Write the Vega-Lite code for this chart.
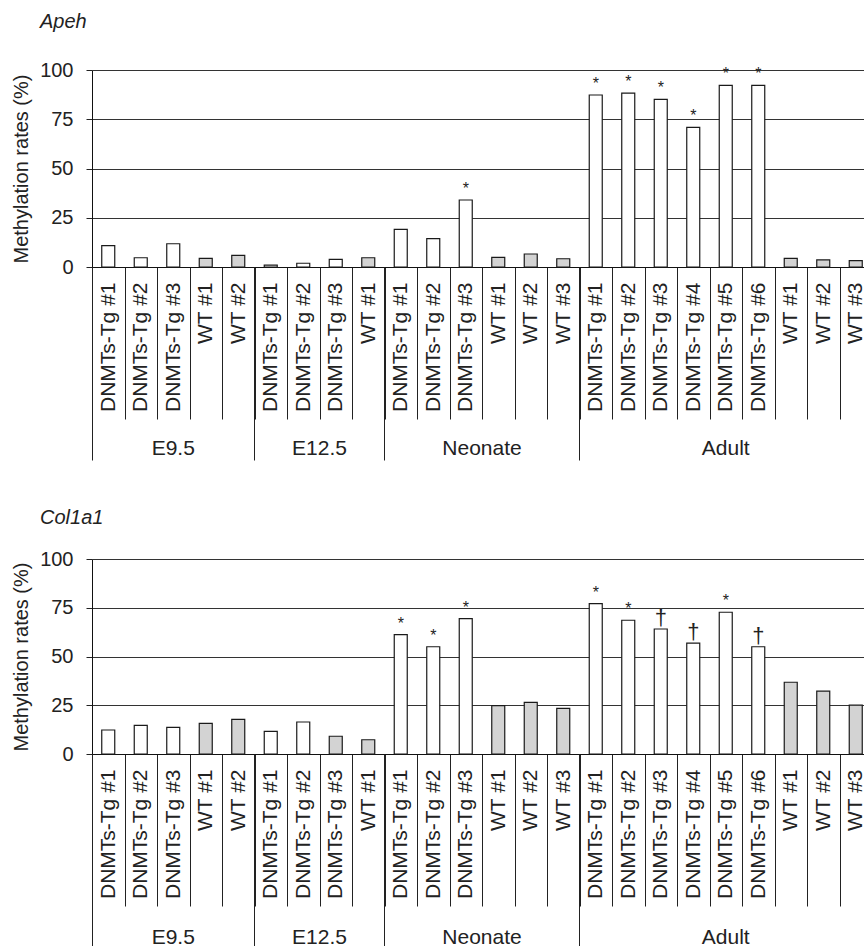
{
  "$schema": "https://vega.github.io/schema/vega-lite/v6.json",
  "padding": {"left": 10, "top": 12, "right": 0, "bottom": 0},
  "config": {"font": "Liberation Sans", "view": {"stroke": null}},
  "datasets": {
    "apeh": [
      {"id": "E9.5|DNMTs-Tg #1", "value": 10.8, "sig": "", "shading": "open"},
      {"id": "E9.5|DNMTs-Tg #2", "value": 4.7, "sig": "", "shading": "open"},
      {"id": "E9.5|DNMTs-Tg #3", "value": 11.8, "sig": "", "shading": "open"},
      {"id": "E9.5|WT #1", "value": 4.4, "sig": "", "shading": "filled"},
      {"id": "E9.5|WT #2", "value": 5.9, "sig": "", "shading": "filled"},
      {"id": "E12.5|DNMTs-Tg #1", "value": 1.0, "sig": "", "shading": "open"},
      {"id": "E12.5|DNMTs-Tg #2", "value": 1.9, "sig": "", "shading": "open"},
      {"id": "E12.5|DNMTs-Tg #3", "value": 3.9, "sig": "", "shading": "open"},
      {"id": "E12.5|WT #1", "value": 4.7, "sig": "", "shading": "filled"},
      {"id": "Neonate|DNMTs-Tg #1", "value": 19.1, "sig": "", "shading": "open"},
      {"id": "Neonate|DNMTs-Tg #2", "value": 14.4, "sig": "", "shading": "open"},
      {"id": "Neonate|DNMTs-Tg #3", "value": 34.0, "sig": "*", "shading": "open"},
      {"id": "Neonate|WT #1", "value": 4.9, "sig": "", "shading": "filled"},
      {"id": "Neonate|WT #2", "value": 6.6, "sig": "", "shading": "filled"},
      {"id": "Neonate|WT #3", "value": 4.2, "sig": "", "shading": "filled"},
      {"id": "Adult|DNMTs-Tg #1", "value": 87.3, "sig": "*", "shading": "open"},
      {"id": "Adult|DNMTs-Tg #2", "value": 88.3, "sig": "*", "shading": "open"},
      {"id": "Adult|DNMTs-Tg #3", "value": 85.1, "sig": "*", "shading": "open"},
      {"id": "Adult|DNMTs-Tg #4", "value": 70.9, "sig": "*", "shading": "open"},
      {"id": "Adult|DNMTs-Tg #5", "value": 92.2, "sig": "*", "shading": "open"},
      {"id": "Adult|DNMTs-Tg #6", "value": 92.2, "sig": "*", "shading": "open"},
      {"id": "Adult|WT #1", "value": 4.4, "sig": "", "shading": "filled"},
      {"id": "Adult|WT #2", "value": 3.6, "sig": "", "shading": "filled"},
      {"id": "Adult|WT #3", "value": 3.2, "sig": "", "shading": "filled"}
    ],
    "col1a1": [
      {"id": "E9.5|DNMTs-Tg #1", "value": 12.3, "sig": "", "shading": "open"},
      {"id": "E9.5|DNMTs-Tg #2", "value": 14.7, "sig": "", "shading": "open"},
      {"id": "E9.5|DNMTs-Tg #3", "value": 13.7, "sig": "", "shading": "open"},
      {"id": "E9.5|WT #1", "value": 15.7, "sig": "", "shading": "filled"},
      {"id": "E9.5|WT #2", "value": 17.8, "sig": "", "shading": "filled"},
      {"id": "E12.5|DNMTs-Tg #1", "value": 11.6, "sig": "", "shading": "open"},
      {"id": "E12.5|DNMTs-Tg #2", "value": 16.4, "sig": "", "shading": "open"},
      {"id": "E12.5|DNMTs-Tg #3", "value": 9.1, "sig": "", "shading": "filled"},
      {"id": "E12.5|WT #1", "value": 7.3, "sig": "", "shading": "filled"},
      {"id": "Neonate|DNMTs-Tg #1", "value": 61.2, "sig": "*", "shading": "open"},
      {"id": "Neonate|DNMTs-Tg #2", "value": 55.0, "sig": "*", "shading": "open"},
      {"id": "Neonate|DNMTs-Tg #3", "value": 69.4, "sig": "*", "shading": "open"},
      {"id": "Neonate|WT #1", "value": 24.8, "sig": "", "shading": "filled"},
      {"id": "Neonate|WT #2", "value": 26.5, "sig": "", "shading": "filled"},
      {"id": "Neonate|WT #3", "value": 23.4, "sig": "", "shading": "filled"},
      {"id": "Adult|DNMTs-Tg #1", "value": 77.1, "sig": "*", "shading": "open"},
      {"id": "Adult|DNMTs-Tg #2", "value": 68.6, "sig": "*", "shading": "open"},
      {"id": "Adult|DNMTs-Tg #3", "value": 64.1, "sig": "†", "shading": "open"},
      {"id": "Adult|DNMTs-Tg #4", "value": 56.9, "sig": "†", "shading": "open"},
      {"id": "Adult|DNMTs-Tg #5", "value": 72.7, "sig": "*", "shading": "open"},
      {"id": "Adult|DNMTs-Tg #6", "value": 55.0, "sig": "†", "shading": "open"},
      {"id": "Adult|WT #1", "value": 36.8, "sig": "", "shading": "filled"},
      {"id": "Adult|WT #2", "value": 32.2, "sig": "", "shading": "filled"},
      {"id": "Adult|WT #3", "value": 25.1, "sig": "", "shading": "filled"}
    ]
  },
  "bounds": "flush",
  "spacing": 292,
  "vconcat": [
    {
      "data": {"name": "apeh"},
      "width": 780,
      "height": 197,
      "title": {"text": "Apeh", "anchor": "start", "frame": "group", "fontStyle": "italic", "fontWeight": "normal", "fontSize": 20, "color": "#222", "dx": -52, "offset": 12, "baseline": "alphabetic"},
      "encoding": {
        "y": {"field": "value", "type": "quantitative", "scale": {"domain": [0, 100]},
          "axis": {"title": "Methylation rates (%)", "values": [0, 25, 50, 75, 100], "grid": true, "gridColor": "#333", "gridWidth": 1, "tickSize": 6, "tickColor": "#222", "domainColor": "#111", "labelFontSize": 20, "labelPadding": 13, "labelColor": "#222", "titleFontSize": 20, "titleFontWeight": "normal", "titleColor": "#222", "titleAngle": -90, "titleX": -65, "titleY": 98.5, "titleAlign": "center", "titleBaseline": "alphabetic"}}
      },
      "layer": [
        {
          "mark": {"type": "bar", "size": 13, "stroke": "#1a1a1a", "strokeWidth": 1.2},
          "encoding": {
            "x": {"field": "id", "type": "nominal", "sort": null, "scale": {"paddingInner": 0, "paddingOuter": 0},
              "axis": {"orient": "bottom", "title": null, "tickBand": "extent", "tickSize": 152, "tickColor": "#222", "domainColor": "#111", "labelAngle": -90, "labelFontSize": 21, "labelPadding": -137, "labelColor": "#222", "labelExpr": "split(datum.value, '|')[1]", "grid": false, "labelOverlap": false, "labelBound": false}},
            "fill": {"field": "shading", "type": "nominal", "scale": {"domain": ["open", "filled"], "range": ["#ffffff", "#d3d3d3"]}, "legend": null}
          }
        },
        {
          "mark": {"type": "text", "baseline": "middle", "dy": -11, "color": "#222"},
          "encoding": {
            "x": {"field": "id", "type": "nominal", "sort": null,
              "axis": {"orient": "bottom", "title": null, "values": ["E9.5|DNMTs-Tg #1", "E12.5|DNMTs-Tg #1", "Neonate|DNMTs-Tg #1", "Adult|DNMTs-Tg #1"], "bandPosition": 0, "tickSize": 193, "tickColor": "#222", "domain": false, "grid": false, "labelAngle": 0, "labelAlign": "center", "labelBaseline": "middle", "labelFontSize": 21, "labelPadding": -12, "labelColor": "#222", "labelOverlap": false, "labelBound": false, "labelExpr": "split(datum.value, '|')[0]",
                "labelOffset": {"condition": [{"test": "indexof(datum.value, 'E9.5|') == 0", "value": 65}, {"test": "indexof(datum.value, 'E12.5|') == 0", "value": 48.75}, {"test": "indexof(datum.value, 'Neonate|') == 0", "value": 81.25}], "value": 130}}},
            "text": {"field": "sig"},
            "size": {"condition": {"test": "datum.sig == '†'", "value": 22}, "value": 16}
          }
        }
      ],
      "resolve": {"axis": {"x": "independent"}}
    },
    {
      "data": {"name": "col1a1"},
      "width": 780,
      "height": 195,
      "title": {"text": "Col1a1", "anchor": "start", "frame": "group", "fontStyle": "italic", "fontWeight": "normal", "fontSize": 20, "color": "#222", "dx": -52, "offset": 5, "baseline": "alphabetic"},
      "encoding": {
        "y": {"field": "value", "type": "quantitative", "scale": {"domain": [0, 100]},
          "axis": {"title": "Methylation rates (%)", "values": [0, 25, 50, 75, 100], "grid": true, "gridColor": "#333", "gridWidth": 1, "tickSize": 6, "tickColor": "#222", "domainColor": "#111", "labelFontSize": 20, "labelPadding": 13, "labelColor": "#222", "titleFontSize": 20, "titleFontWeight": "normal", "titleColor": "#222", "titleAngle": -90, "titleX": -65, "titleY": 97.5, "titleAlign": "center", "titleBaseline": "alphabetic"}}
      },
      "layer": [
        {
          "mark": {"type": "bar", "size": 13, "stroke": "#1a1a1a", "strokeWidth": 1.2},
          "encoding": {
            "x": {"field": "id", "type": "nominal", "sort": null, "scale": {"paddingInner": 0, "paddingOuter": 0},
              "axis": {"orient": "bottom", "title": null, "tickBand": "extent", "tickSize": 152, "tickColor": "#222", "domainColor": "#111", "labelAngle": -90, "labelFontSize": 21, "labelPadding": -137, "labelColor": "#222", "labelExpr": "split(datum.value, '|')[1]", "grid": false, "labelOverlap": false, "labelBound": false}},
            "fill": {"field": "shading", "type": "nominal", "scale": {"domain": ["open", "filled"], "range": ["#ffffff", "#d3d3d3"]}, "legend": null}
          }
        },
        {
          "mark": {"type": "text", "baseline": "middle", "dy": -11, "color": "#222"},
          "encoding": {
            "x": {"field": "id", "type": "nominal", "sort": null,
              "axis": {"orient": "bottom", "title": null, "values": ["E9.5|DNMTs-Tg #1", "E12.5|DNMTs-Tg #1", "Neonate|DNMTs-Tg #1", "Adult|DNMTs-Tg #1"], "bandPosition": 0, "tickSize": 193, "tickColor": "#222", "domain": false, "grid": false, "labelAngle": 0, "labelAlign": "center", "labelBaseline": "middle", "labelFontSize": 21, "labelPadding": -10, "labelColor": "#222", "labelOverlap": false, "labelBound": false, "labelExpr": "split(datum.value, '|')[0]",
                "labelOffset": {"condition": [{"test": "indexof(datum.value, 'E9.5|') == 0", "value": 65}, {"test": "indexof(datum.value, 'E12.5|') == 0", "value": 48.75}, {"test": "indexof(datum.value, 'Neonate|') == 0", "value": 81.25}], "value": 130}}},
            "text": {"field": "sig"},
            "size": {"condition": {"test": "datum.sig == '†'", "value": 22}, "value": 16}
          }
        }
      ],
      "resolve": {"axis": {"x": "independent"}}
    }
  ]
}
